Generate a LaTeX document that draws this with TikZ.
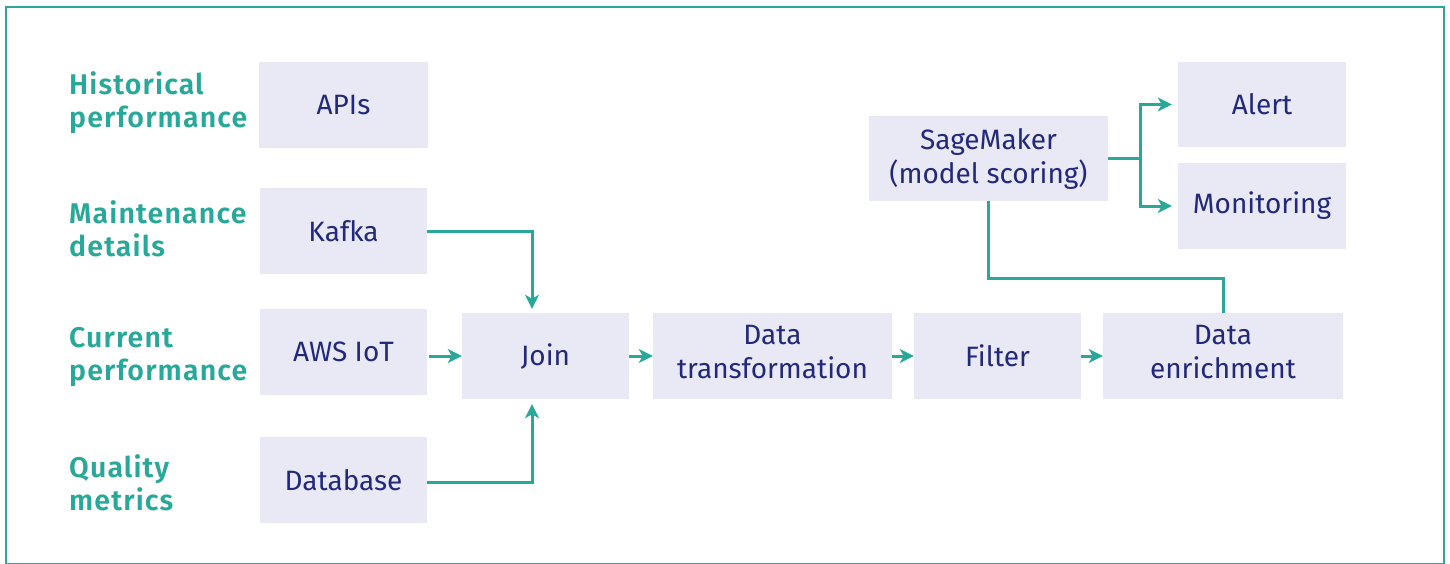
\documentclass[tikz,border=0pt]{standalone}
\usepackage{fontspec}
\setmainfont{Fira Sans}[BoldFont={Fira Sans SemiBold}]
\usetikzlibrary{arrows.meta}
\definecolor{tealc}{RGB}{40,168,152}
\definecolor{navyc}{RGB}{34,40,122}
\definecolor{boxfill}{RGB}{232,233,245}
\begin{document}
\begin{tikzpicture}[x=1pt,y=-1pt,
  box/.style={fill=boxfill, text=navyc, inner sep=0pt, minimum height=86pt,
    align=center, font=\fontsize{28}{34}\selectfont},
  lab/.style={text=tealc, inner sep=0pt, anchor=west, align=left,
    font=\fontsize{28.5}{33}\selectfont\bfseries\addfontfeatures{LetterSpace=4}},
  flow/.style={draw=tealc, line width=3pt, -{Stealth[length=14pt,width=14pt,inset=4pt]}},
  link/.style={draw=tealc, line width=3pt}]
\useasboundingbox (0,0) rectangle (1450,563);
\begin{scope}
\clip (0,0) rectangle (1450,563);
\draw[tealc, line width=2.5pt] (6,7) rectangle (1444,564.5);
\end{scope}

% source boxes
\node[box, minimum width=169pt] (apis) at (343.5,105) {APIs};
\node[box, minimum width=167pt] (kafka) at (343.5,231) {Kafka};
\node[box, minimum width=167pt] (aws) at (343.5,352) {AWS IoT};
\node[box, minimum width=167pt] (db) at (343.5,480) {Database};

% labels
\node[lab] (l1) at (69,103) {Historical\\performance};
\node[lab] (l2) at (69,229) {Maintenance\\details};
\node[lab] (l3) at (69,357) {Current\\performance};
\node[lab] (l4) at (69,483) {Quality\\metrics};

% pipeline
\node[box, minimum width=167pt] (join) at (545.5,356) {Join};
\node[box, minimum width=239pt, text depth=8pt] (dt) at (772.5,356) {Data\\transformation};
\node[box, minimum width=167pt] (filter) at (997.5,356) {Filter};
\node[box, minimum width=240pt, text depth=8pt] (enr) at (1223,356) {Data\\enrichment};
\node[box, minimum width=239pt, minimum height=85pt] (sage) at (988.5,158.5) {SageMaker\\(model scoring)};
\node[box, minimum width=168pt, minimum height=85pt] (alert) at (1262,104.5) {Alert};
\node[box, minimum width=168pt] (mon) at (1262,206) {Monitoring};

\coordinate (jx) at (532,0);
\coordinate (sb) at (1140,0);
\coordinate (ly) at (0,278);

% connectors
\draw[flow, shorten >=4pt] (kafka.east) -| (jx |- join.north);
\draw[flow, shorten >=5pt] (db.east |- 0,482) -| (jx |- join.south);
\draw[flow, shorten <=2pt] (aws.east |- join.west) -- (join.west);
\draw[flow] (join.east) -- (dt.west);
\draw[flow] (dt.east) -- (filter.west);
\draw[flow] (filter.east) -- (enr.west);
\draw[link] (sage.east) -- (sb |- sage.east);
\draw[flow, shorten >=6pt] (sb |- sage.east) |- (alert.west);
\draw[flow, shorten >=6pt] (sb |- sage.east) |- (mon.west);
\draw[link] (sage.south) |- (ly -| enr.north) -- (enr.north);
\end{tikzpicture}
\end{document}
